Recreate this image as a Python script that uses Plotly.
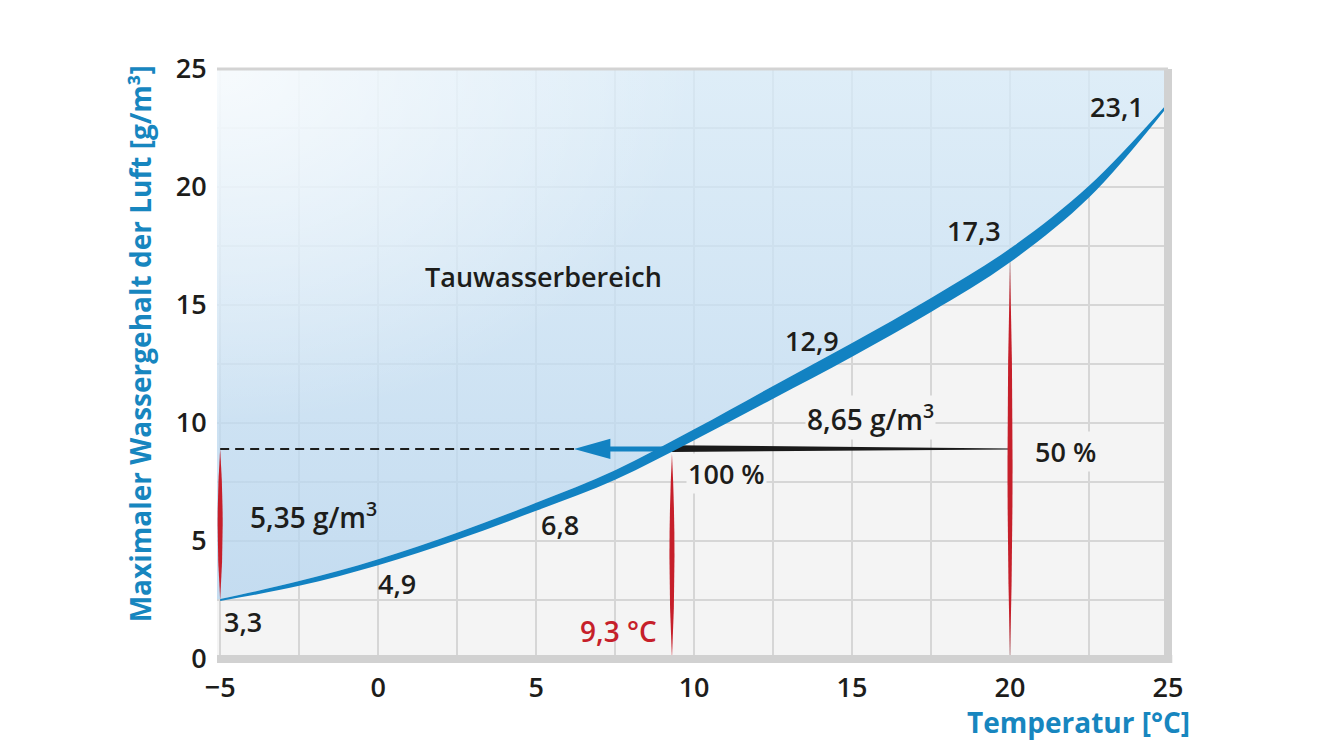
import plotly.graph_objects as go

# saturation curve: temperature (°C) -> max. water content (g/m³)
temps = [-5, -2.5, 0, 2.5, 5, 7.5, 10, 12.5, 15, 17.5, 20, 22.5, 25]
max_water = [2.5, 3.2, 4.1, 5.2, 6.45, 7.8, 9.5, 11.3, 13.1, 15.0, 17.1, 19.8, 23.5]

# worked example: room air at 20 °C cools down to its dew point
room_temp = 20
dew_point = 9.3
low_temp = -5
humidity_level = 8.9   # height of the horizontal arrow / dashed line
arrow_tip = 6.2

# red markers: temperature, lower and upper end
marker_temps = [-5, 9.3, 20]
marker_lo = [2.5, 0, 0]
marker_hi = [8.9, 8.7, 16.8]

# texts
value_labels = ["23,1", "17,3", "12,9", "6,8", "4,9", "3,3"]
zone_label = "Tauwasserbereich"
content_labels = ["8,65 g/m<sup>3</sup>", "5,35 g/m<sup>3</sup>"]
rh_labels = ["50 %", "100 %"]
dew_label = "9,3 °C"

# styling
X_RANGE = [-5.1, 25]
Y_RANGE = [0, 25]
BLUE = "#1282c2"
TITLE_BLUE = "#1786bf"
RED = "#c61f2a"
INK = "#1d1d1b"
GRID = "#d6d6d6"
BG = "#f4f4f4"
FONT = "Open Sans"
# half thickness of the curve band (vertical, in g/m³)
band_half = [0.04, 0.1, 0.13, 0.15, 0.17, 0.2, 0.23, 0.27, 0.29, 0.3, 0.29, 0.25, 0.07]

upper = [v + h for v, h in zip(max_water, band_half)]
lower = [v - h for v, h in zip(max_water, band_half)]

fig = go.Figure()

# top boundary of the condensation zone (plot frame)
fig.add_trace(go.Scatter(
    x=[X_RANGE[0] - 1, X_RANGE[0] - 1, X_RANGE[1] + 1],
    y=[max_water[0], Y_RANGE[1] + 1, Y_RANGE[1] + 1],
    mode="lines", line=dict(width=0), hoverinfo="skip", showlegend=False,
))
# light blue zone above the curve
fig.add_trace(go.Scatter(
    x=temps, y=upper, mode="lines",
    line=dict(width=0, shape="spline"),
    fill="tonexty",
    fillgradient=dict(
        type="vertical", start=2.5, stop=25,
        colorscale=[[0, "rgba(180,212,239,0.75)"], [1, "rgba(215,235,249,0.75)"]],
    ),
    hoverinfo="skip", showlegend=False,
))
# whitish glow in the top-left corner
fig.add_trace(go.Scatter(
    x=[low_temp - 15, low_temp + 15, low_temp + 15, low_temp - 15],
    y=[Y_RANGE[1] - 15, Y_RANGE[1] - 15, Y_RANGE[1] + 15, Y_RANGE[1] + 15],
    mode="lines", line=dict(width=0), fill="toself",
    fillgradient=dict(
        type="radial",
        colorscale=[[0, "rgba(255,255,255,0.75)"], [1, "rgba(255,255,255,0)"]],
    ),
    hoverinfo="skip", showlegend=False,
))

# dashed line to the axis
fig.add_trace(go.Scatter(
    x=[low_temp, arrow_tip], y=[humidity_level, humidity_level],
    mode="lines", line=dict(color=INK, width=2, dash="9px,6px"),
    hoverinfo="skip", showlegend=False,
))
# black wedge from 20 °C to the dew point
fig.add_trace(go.Scatter(
    x=[dew_point, room_temp, room_temp, dew_point],
    y=[humidity_level + 0.16, humidity_level + 0.02, humidity_level - 0.02, humidity_level - 0.13],
    mode="lines", line=dict(width=0), fill="toself", fillcolor="#1a1a1a",
    hoverinfo="skip", showlegend=False,
))
# blue arrow
head_base = arrow_tip + 1.15
fig.add_trace(go.Scatter(
    x=[dew_point, head_base - 0.1], y=[humidity_level, humidity_level],
    mode="lines", line=dict(color=BLUE, width=5),
    hoverinfo="skip", showlegend=False,
))
fig.add_trace(go.Scatter(
    x=[arrow_tip, head_base, head_base],
    y=[humidity_level, humidity_level + 0.43, humidity_level - 0.43],
    mode="lines", line=dict(width=0), fill="toself", fillcolor=BLUE,
    hoverinfo="skip", showlegend=False,
))

# saturation curve as a tapered band
fig.add_trace(go.Scatter(
    x=temps, y=lower, mode="lines", line=dict(width=0, shape="spline"),
    hoverinfo="skip", showlegend=False,
))
fig.add_trace(go.Scatter(
    x=temps, y=upper, mode="lines", line=dict(width=0, shape="spline"),
    fill="tonexty", fillcolor=BLUE,
    hoverinfo="skip", showlegend=False,
))

# red spindle markers
shapes = []
w = 0.16
for t, lo, hi in zip(marker_temps, marker_lo, marker_hi):
    mid = (lo + hi) / 2
    shapes.append(dict(
        type="path", xref="x", yref="y",
        path=f"M {t},{lo} Q {t + w},{mid} {t},{hi} Q {t - w},{mid} {t},{lo} Z",
        fillcolor=RED, line=dict(width=0), layer="above",
    ))

# frame: thick grey edge at bottom and right
shapes.append(dict(type="line", xref="paper", yref="paper", x0=0, x1=1.0045, y0=0, y1=0,
                   line=dict(color="#d1d1d1", width=8), layer="above"))
shapes.append(dict(type="line", xref="paper", yref="paper", x0=1, x1=1, y0=-0.0065, y1=1,
                   line=dict(color="#d1d1d1", width=8), layer="above"))
shapes.append(dict(type="line", xref="paper", yref="paper", x0=0, x1=1, y0=1, y1=1,
                   line=dict(color="#d3d3d3", width=3), layer="above"))

label_font = dict(family=FONT, size=27, color=INK, weight=600)

# value labels next to the curve
value_pos = [(23.4, 23.4), (18.85, 18.15), (13.72, 13.5), (5.76, 5.72), (0.6, 3.18), (-4.27, 1.6)]
annotations = []
for txt, (x, y) in zip(value_labels, value_pos):
    annotations.append(dict(x=x, y=y, text=txt, showarrow=False, font=label_font))

annotations.append(dict(x=5.22, y=16.2, text=zone_label, showarrow=False,
                        font=dict(family=FONT, size=27, color=INK, weight=600)))
annotations.append(dict(x=15.57, y=10.25, text=content_labels[0], showarrow=False,
                        font=dict(family=FONT, size=28, color=INK, weight=600), bgcolor=BG))
annotations.append(dict(x=-2.06, y=6.1, text=content_labels[1], showarrow=False,
                        font=dict(family=FONT, size=28, color=INK, weight=600)))
annotations.append(dict(x=21.74, y=8.8, text=rh_labels[0], showarrow=False,
                        font=label_font, bgcolor=BG))
annotations.append(dict(x=11.04, y=7.84, text=rh_labels[1], showarrow=False,
                        font=label_font, bgcolor=BG))
annotations.append(dict(x=7.62, y=1.19, text=dew_label, showarrow=False,
                        font=dict(family=FONT, size=28, color=RED, weight=600)))

# axis titles
annotations.append(dict(
    xref="paper", yref="paper", x=-0.081, y=0.535, textangle=-90,
    text="Maximaler Wassergehalt der Luft [g/m³]", showarrow=False,
    xanchor="center", yanchor="middle",
    font=dict(family=FONT, size=28, color=TITLE_BLUE, weight=700),
))
annotations.append(dict(
    xref="paper", yref="paper", x=1.025, y=-0.107,
    text="Temperatur [°C]", showarrow=False,
    xanchor="right", yanchor="middle",
    font=dict(family=FONT, size=28, color=TITLE_BLUE, weight=700),
))

tick_font = dict(family=FONT, size=27, color=INK, weight=600)

# the page adds an 8px body margin, so the plot area is shifted back by that
fig.update_layout(
    width=1337, height=755,
    margin=dict(l=209, r=177, t=61, b=104),
    paper_bgcolor="white",
    plot_bgcolor=BG,
    showlegend=False,
    shapes=shapes,
    annotations=annotations,
)
fig.update_xaxes(
    range=X_RANGE, tickmode="linear", tick0=0, dtick=5,
    showgrid=True, gridcolor=GRID, gridwidth=2,
    minor=dict(dtick=2.5, showgrid=True, gridcolor=GRID, gridwidth=2),
    zeroline=False, showline=False,
    ticks="outside", ticklen=5, tickcolor="rgba(0,0,0,0)",
    tickfont=tick_font, fixedrange=True,
)
fig.update_yaxes(
    range=Y_RANGE, tickmode="linear", tick0=0, dtick=5,
    showgrid=True, gridcolor=GRID, gridwidth=2,
    minor=dict(dtick=2.5, showgrid=True, gridcolor=GRID, gridwidth=2),
    zeroline=False, showline=False,
    ticks="outside", ticklen=4, tickcolor="rgba(0,0,0,0)",
    tickfont=tick_font, fixedrange=True,
)

fig.write_html("out.html")
